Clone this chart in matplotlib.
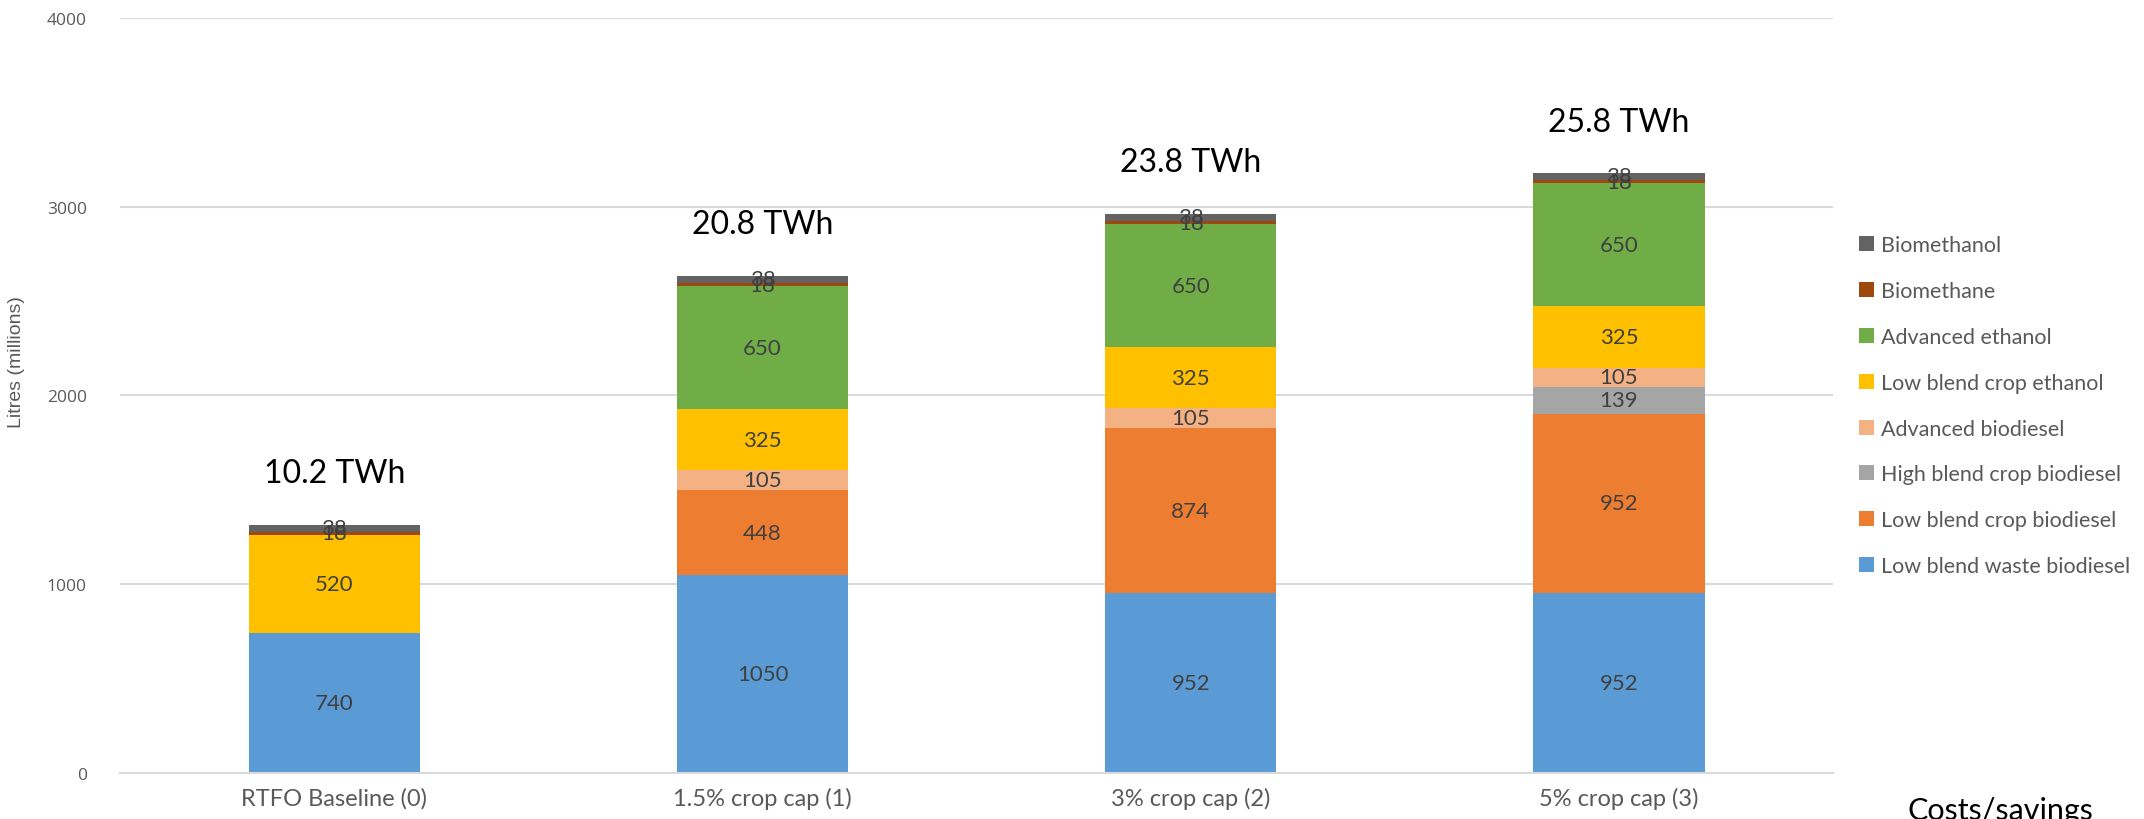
import matplotlib
matplotlib.use("Agg")
import matplotlib.pyplot as plt
import numpy as np

scenarios = ["RTFO Baseline (0)", "1.5% crop cap (1)", "3% crop cap (2)", "5% crop cap (3)"]
energy_labels = ["10.2 TWh", "20.8 TWh", "23.8 TWh", "25.8 TWh"]

# stacked from the bottom up
fuels = [
    "Low blend waste biodiesel",
    "Low blend crop biodiesel",
    "High blend crop biodiesel",
    "Advanced biodiesel",
    "Low blend crop ethanol",
    "Advanced ethanol",
    "Biomethane",
    "Biomethanol",
]
waste_biodiesel = [740, 1050, 952, 952]
crop_biodiesel = [0, 448, 874, 952]
high_blend_biodiesel = [0, 0, 0, 139]
advanced_biodiesel = [0, 105, 105, 105]
crop_ethanol = [520, 325, 325, 325]
advanced_ethanol = [0, 650, 650, 650]
biomethane = [18, 18, 18, 18]
biomethanol = [38, 38, 38, 38]

series = [waste_biodiesel, crop_biodiesel, high_blend_biodiesel, advanced_biodiesel,
          crop_ethanol, advanced_ethanol, biomethane, biomethanol]
colors = ["#5B9BD5", "#ED7D31", "#A5A5A5", "#F4B183",
          "#FFC000", "#70AD47", "#9E480E", "#636363"]

plt.rcParams["font.family"] = ["Lato", "DejaVu Sans"]

fig = plt.figure(figsize=(21.44, 8.2), dpi=100)
ax = fig.add_axes([0.056, 0.056, 0.799, 0.921])

x = np.arange(len(scenarios))
bottom = np.zeros(len(scenarios))
handles = []
for name, vals, col in zip(fuels, series, colors):
    vals = np.array(vals, dtype=float)
    bars = ax.bar(x, vals, 0.4, bottom=bottom, color=col, label=name, zorder=2)
    handles.append(bars)
    for xi, b, v in zip(x, bottom, vals):
        if v > 0:
            ax.text(xi, b + v / 2, f"{v:.0f}", ha="center", va="center",
                    fontsize=16, color="#404040", zorder=3)
    bottom += vals

# energy totals sit a little above each stack
for xi, tot, lab in zip(x, bottom, energy_labels):
    ax.text(xi, tot + 272, lab, ha="center", va="center", fontsize=23, color="black")

ax.set_xlim(-0.5, len(scenarios) - 0.5)
ax.set_ylim(0, 4000)
ax.set_yticks([0, 1000, 2000, 3000, 4000])
ax.yaxis.grid(True, color="#D9D9D9", linewidth=1.5, zorder=0)
ax.set_axisbelow(True)
for s in ["top", "right", "left"]:
    ax.spines[s].set_visible(False)
ax.spines["bottom"].set_color("#D9D9D9")
ax.spines["bottom"].set_linewidth(1.5)

ax.set_xticks(x)
ax.set_xticklabels(scenarios, fontsize=17, color="#595959")
ax.tick_params(axis="x", length=0, pad=10)
ax.tick_params(axis="y", length=0, pad=24, labelsize=12.5, labelcolor="#595959")
for t in ax.get_yticklabels():
    t.set_fontfamily(["Open Sans", "DejaVu Sans"])

ax.set_ylabel("Litres (millions)", fontsize=14, color="#595959",
              family=["Liberation Sans Narrow", "Liberation Sans"])
ax.yaxis.set_label_coords(-0.0555, 0.546)

ax.legend(handles[::-1], fuels[::-1], loc="center left", bbox_to_anchor=(0.867, 0.504),
          bbox_transform=fig.transFigure, frameon=False, fontsize=15.5,
          labelcolor="#595959", handlelength=0.7, handleheight=0.7,
          handletextpad=0.35, labelspacing=1.2, borderaxespad=0, borderpad=0)

fig.text(2000 / 2144, 0.0, "Costs/savings", ha="center", va="baseline",
         fontsize=22, color="black")

fig.savefig("out.png", dpi=100)
